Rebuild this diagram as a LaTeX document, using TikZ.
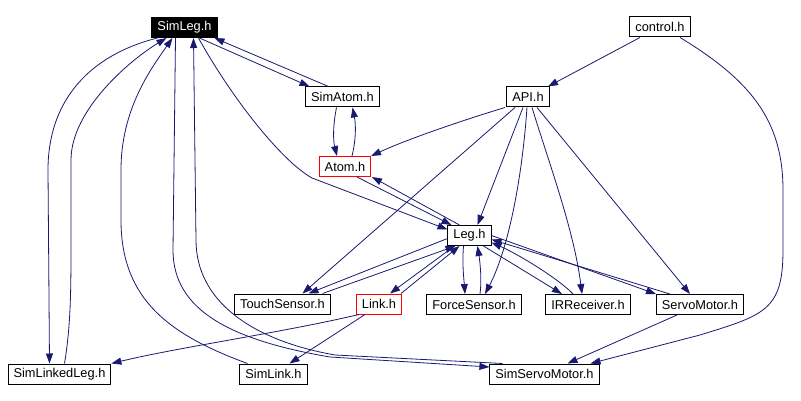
\documentclass[tikz,border=0pt]{standalone}
\usepackage{fontspec}
\setmainfont{Liberation Sans}
\usetikzlibrary{arrows.meta}
\definecolor{edgeblue}{RGB}{25,25,112}

\begin{document}
\begin{tikzpicture}[x=1pt,y=-1pt,
  file node/.style={rectangle,draw,line width=1pt,minimum height=20pt,inner xsep=5.5pt,inner ysep=0pt,font=\fontsize{12.8pt}{15pt}\selectfont},
  root node/.style={file node,fill=black,text=white},
  red node/.style={file node,draw=red},
  include/.style={edgeblue,line width=0.8pt,-{Triangle[length=10pt,width=7pt]}}]

  \path[fill=white,use as bounding box] (0,0) rectangle (801,401);

  \node[root node] (SimLeg) at (184.5,27.5) {SimLeg.h};
  \node[file node] (SimAtom) at (342.5,97) {SimAtom.h};
  \node[red node] (Atom) at (345,166.5) {Atom.h};
  \node[file node] (control) at (660,27) {control.h};
  \node[file node] (API) at (528,97) {API.h};
  \node[file node] (Leg) at (469.5,235.5) {Leg.h};
  \node[file node] (TouchSensor) at (282.5,304) {TouchSensor.h};
  \node[red node] (Link) at (379,304) {Link.h};
  \node[file node] (ForceSensor) at (474,304.5) {ForceSensor.h};
  \node[file node] (IRReceiver) at (588,304.5) {IRReceiver.h};
  \node[file node] (ServoMotor) at (700,304.5) {ServoMotor.h};
  \node[file node] (SimLinkedLeg) at (59.5,374) {SimLinkedLeg.h};
  \node[file node] (SimLink) at (273.5,374) {SimLink.h};
  \node[file node] (SimServoMotor) at (544.5,374) {SimServoMotor.h};

  \path[include]
   ([xshift=15]SimLeg.south) edge ([xshift=-33]SimAtom.north)
   ([xshift=-14]SimAtom.north) edge ([xshift=30]SimLeg.south)
   ([xshift=-20]control.south) edge ([xshift=20]API.north)
   ([xshift=-5]API.south) edge ([xshift=8]Leg.north)
   ([xshift=-13]API.south) edge ([xshift=20]TouchSensor.north)
   ([xshift=9]API.south) edge ([xshift=-10]ServoMotor.north)
   ([xshift=12]Atom.south) edge ([xshift=-18]Leg.north)
   ([xshift=-10]Leg.north) edge ([xshift=27]Atom.south)
   ([yshift=-3]Leg.west) edge ([xshift=26]TouchSensor.north)
   ([xshift=40]TouchSensor.north) edge ([xshift=-14]Leg.south)
   ([xshift=-15]Leg.south) edge ([xshift=11]Link.north)
   ([xshift=22]Link.north) edge ([xshift=-10]Leg.south)
   ([xshift=14]Leg.south) edge ([xshift=-26]IRReceiver.north)
   (Leg.east) edge ([xshift=-44]ServoMotor.north)
   ([xshift=-30]ServoMotor.north) edge ([yshift=-4]Leg.east)
   ([xshift=-14]Link.south) edge ([xshift=16]SimLink.north)
   ([xshift=-23]ServoMotor.south) edge ([xshift=23]SimServoMotor.north);

  \draw[include] ([xshift=-6]SimAtom.south) .. controls (333,125) and (333,140) .. ([xshift=-8]Atom.north);
  \draw[include] ([xshift=7]Atom.north) .. controls (356,140) and (356,125) .. ([xshift=10]SimAtom.south);
  \draw[include] ([xshift=-23]API.south) .. controls (470,118) and (410,138) .. ([xshift=26]Atom.north);
  \draw[include] ([xshift=-1]API.south) .. controls (522,180) and (508,250) .. ([xshift=11]ForceSensor.north);
  \draw[include] ([xshift=4]API.south) .. controls (548,160) and (574,230) .. ([xshift=-6]IRReceiver.north);
  \draw[include] ([xshift=20]control.south) .. controls (750,80) and (783,120) .. (783,190) -- (783,250)
    .. controls (783,310) and (765,315) .. (700,335) -- ([xshift=46]SimServoMotor.north);
  \draw[include] ([xshift=-6]Leg.south) .. controls (462,265) and (464,280) .. ([xshift=-9]ForceSensor.north);
  \draw[include] ([xshift=6]ForceSensor.north) .. controls (482,280) and (480,262) .. ([xshift=8]Leg.south);
  \draw[include] ([xshift=-15]IRReceiver.north) .. controls (560,280) and (520,255) .. ([yshift=-7]Leg.east);
  \draw[include] ([xshift=-20]Link.south) .. controls (280,333) and (180,347) .. (SimLinkedLeg.north east);
  \draw[include] ([xshift=14]SimLeg.south) .. controls (230,95) and (280,160) .. (312,178) -- ([yshift=6]Leg.west);
  \draw[include] ([xshift=-27]SimLeg.south) .. controls (90,55) and (48,100) .. (48,170) -- ([xshift=-10]SimLinkedLeg.north);
  \draw[include] ([xshift=5]SimLinkedLeg.north) .. controls (70,330) and (71,300) .. (71,250) -- (71,160)
    .. controls (71,110) and (130,60) .. ([xshift=-18]SimLeg.south);
  \draw[include] ([xshift=-26]SimLink.north) .. controls (170,335) and (121,300) .. (121,220) -- (121,170)
    .. controls (121,110) and (150,70) .. ([xshift=-12]SimLeg.south);
  \draw[include] ([xshift=-9]SimLeg.south) -- (173,250) .. controls (173,310) and (230,340) .. (330,357)
    -- ([yshift=7]SimServoMotor.west);
  \draw[include] ([xshift=-42]SimServoMotor.north) -- (335,355) .. controls (250,340) and (196,300) .. (196,240)
    -- ([xshift=9]SimLeg.south);
\end{tikzpicture}
\end{document}
